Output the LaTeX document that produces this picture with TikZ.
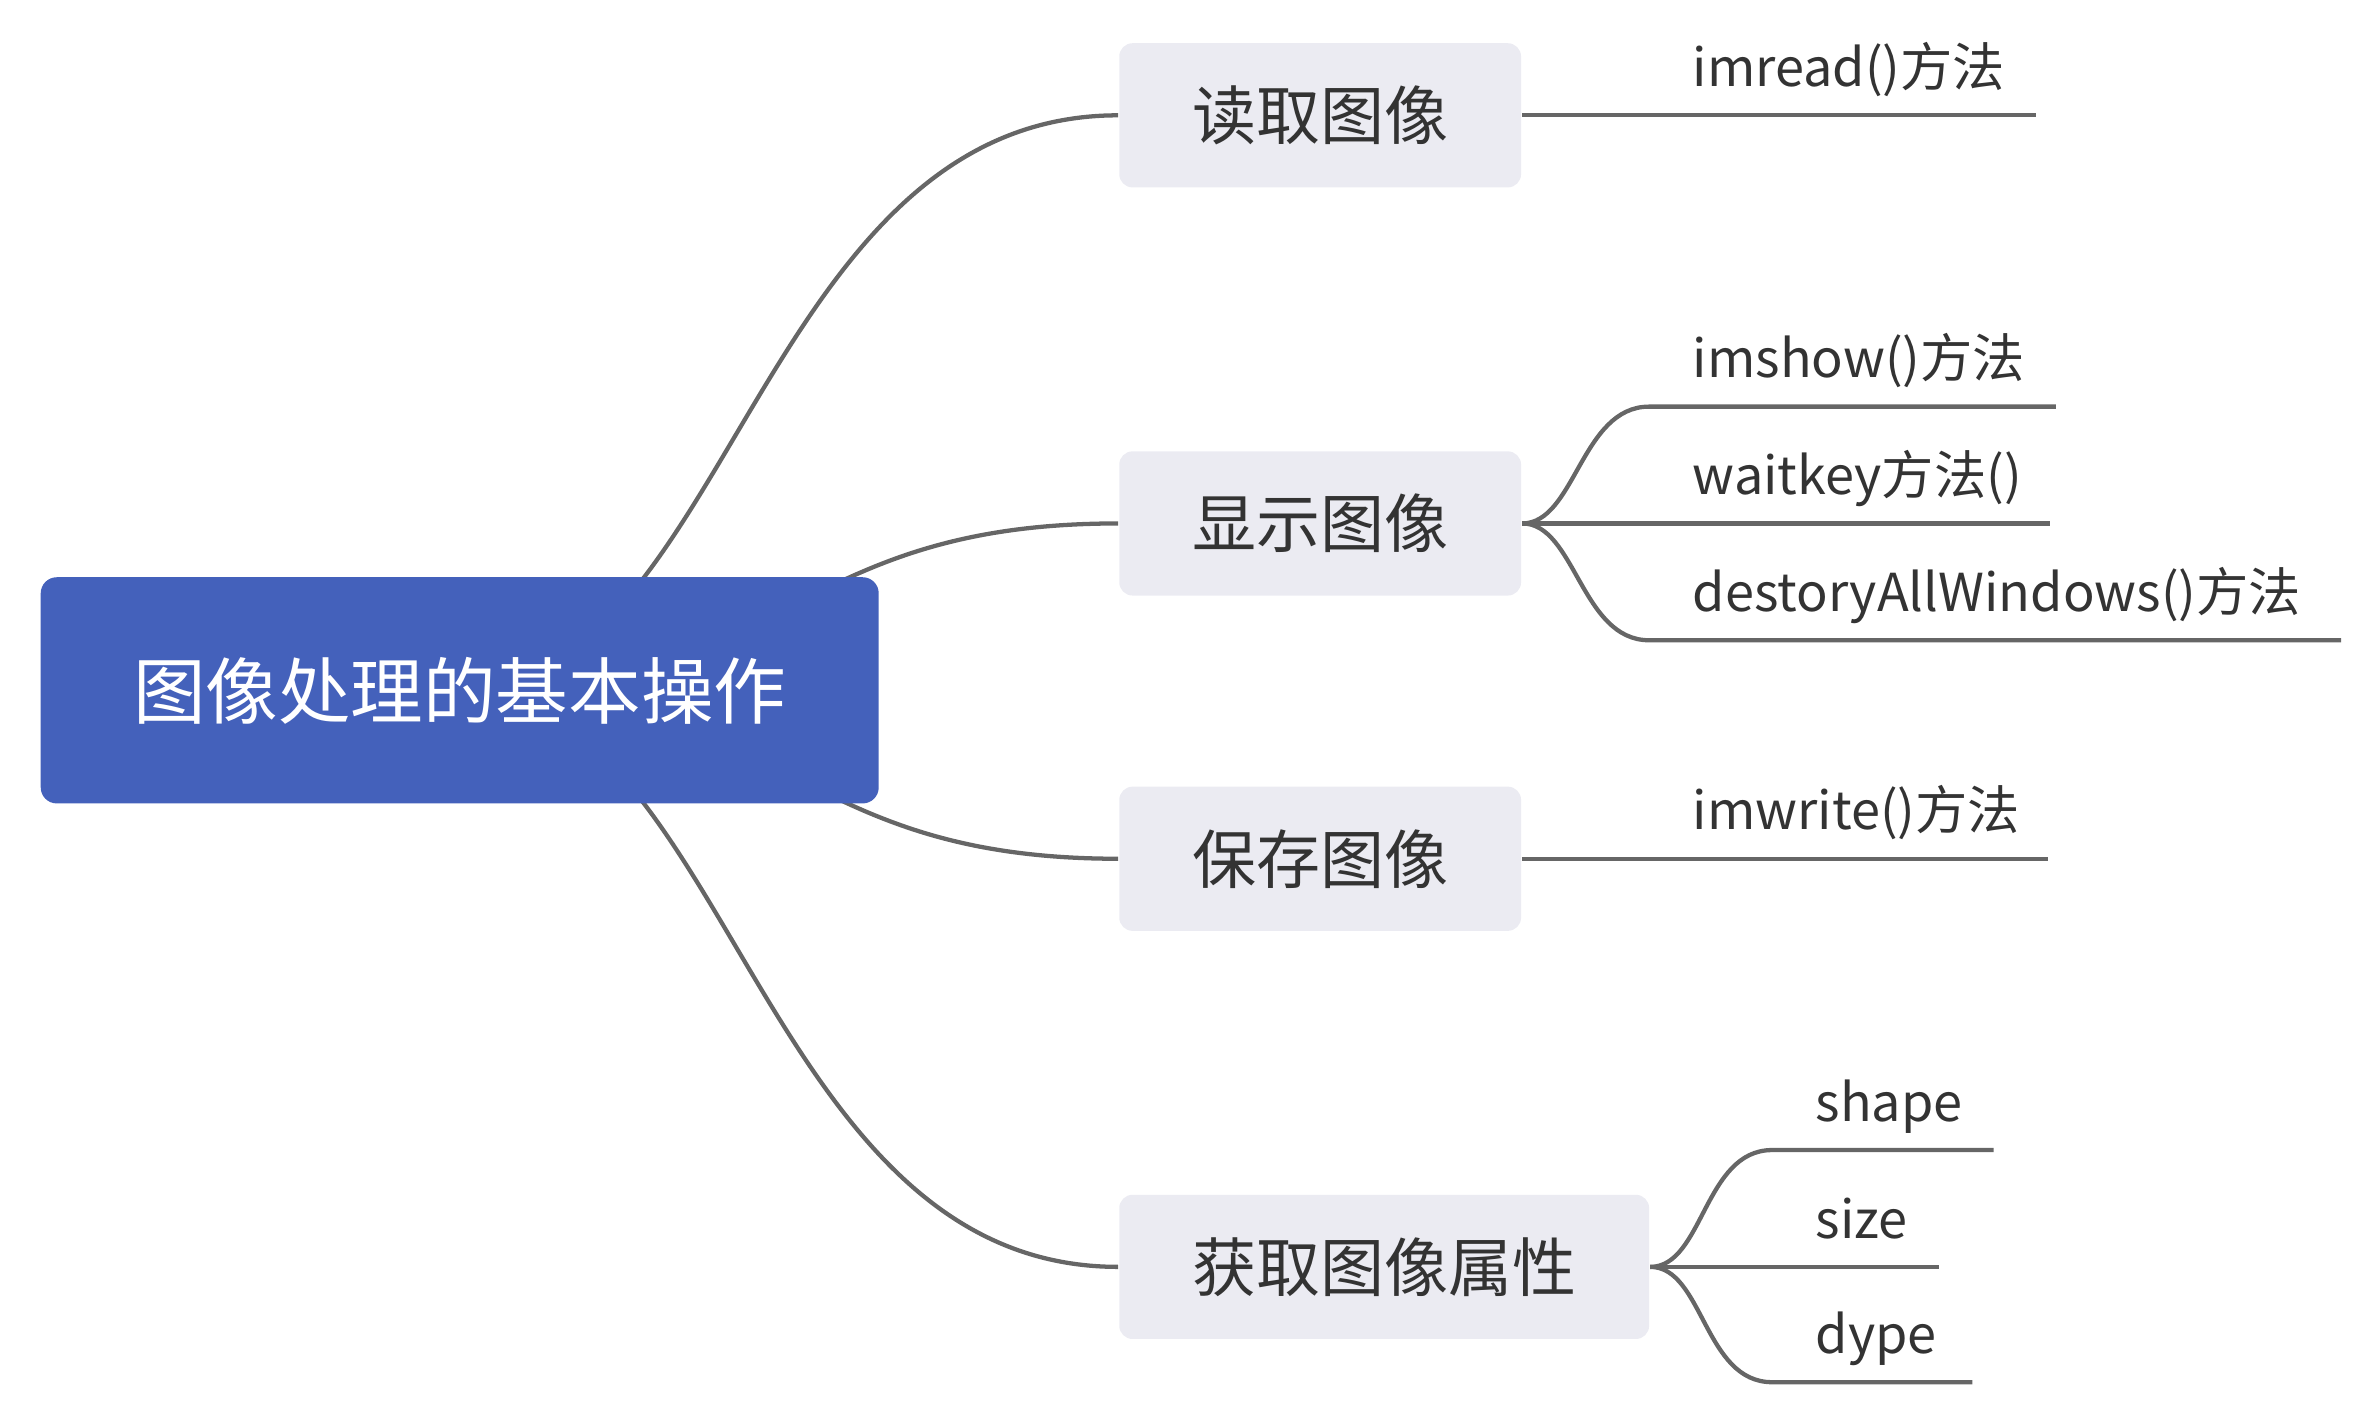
\documentclass[tikz,border=0pt]{standalone}
\usepackage{fontspec}
\setmainfont{Noto Sans CJK SC}
\usepackage{xcolor}
\usetikzlibrary{positioning,backgrounds}
\definecolor{rootblue}{HTML}{4461BB}
\definecolor{topicgray}{HTML}{EBEBF2}
\definecolor{linkgray}{HTML}{666666}
\definecolor{textgray}{HTML}{333333}

\begin{document}
\begin{tikzpicture}[x=0.01cm, y=-0.01cm,
  rootbox/.style={fill=rootblue, rounded corners=3pt, minimum width=5.52cm, minimum height=1.49cm,
    text=white, font=\fontsize{13.6}{16}\selectfont},
  topic/.style={fill=topicgray, rounded corners=2.5pt, minimum height=0.95cm, inner xsep=0.48cm,
    text=textgray, font=\fontsize{12}{14}\selectfont, anchor=west},
  leaf/.style={anchor=base west, inner sep=0pt, text=textgray, font=\fontsize{9.8}{12}\selectfont},
  link/.style={draw=linkgray, line width=0.8pt}]
  \useasboundingbox (0,0) rectangle (1568,927);

  \node[rootbox] (root) at (303,455) {图像处理的基本操作};
  \node[topic] (read) at (737,76) {读取图像};
  \node[topic] (show) at (737,345) {显示图像};
  \node[topic] (save) at (737,566) {保存图像};
  \node[topic] (attr) at (737,835) {获取图像属性};

  \node[leaf] (imread) at (1115,57) {imread()方法};
  \node[leaf] (imshow) at (1115,249) {imshow()方法};
  \node[leaf] (waitkey) at (1115,326) {waitkey方法()};
  \node[leaf] (destroy) at (1115,403) {destoryAllWindows()方法};
  \node[leaf] (imwrite) at (1115,547) {imwrite()方法};
  \node[leaf] (shape) at (1196,739) {shape};
  \node[leaf] (size) at (1196,816) {size};
  \node[leaf] (dype) at (1196,892) {dype};

  \coordinate (imreadEnd) at (1342,76);
  \coordinate (imshowA) at (1087,268);
  \coordinate (imshowB) at (1355,268);
  \coordinate (waitkeyEnd) at (1351,345);
  \coordinate (destroyA) at (1087,422);
  \coordinate (destroyB) at (1543,422);
  \coordinate (imwriteEnd) at (1350,566);
  \coordinate (shapeA) at (1168,758);
  \coordinate (shapeB) at (1314,758);
  \coordinate (sizeEnd) at (1278,835);
  \coordinate (dypeA) at (1168,911);
  \coordinate (dypeB) at (1300,911);

  \begin{scope}[on background layer]
    \draw[link] (root.center) .. controls +(177,0) and +(-237,0) .. (read.west);
    \draw[link] (root.center) .. controls +(217,0) and +(-217,0) .. (show.west);
    \draw[link] (root.center) .. controls +(217,0) and +(-217,0) .. (save.west);
    \draw[link] (root.center) .. controls +(177,0) and +(-237,0) .. (attr.west);
  \end{scope}

  \draw[link] (read.east) -- (imreadEnd);
  \draw[link] (show.east) .. controls +(35,0) and +(-45,0) .. (imshowA) -- (imshowB);
  \draw[link] (show.east) -- (waitkeyEnd);
  \draw[link] (show.east) .. controls +(35,0) and +(-45,0) .. (destroyA) -- (destroyB);
  \draw[link] (save.east) -- (imwriteEnd);
  \draw[link] (attr.east) .. controls +(35,0) and +(-45,0) .. (shapeA) -- (shapeB);
  \draw[link] (attr.east) -- (sizeEnd);
  \draw[link] (attr.east) .. controls +(35,0) and +(-45,0) .. (dypeA) -- (dypeB);
\end{tikzpicture}
\end{document}
